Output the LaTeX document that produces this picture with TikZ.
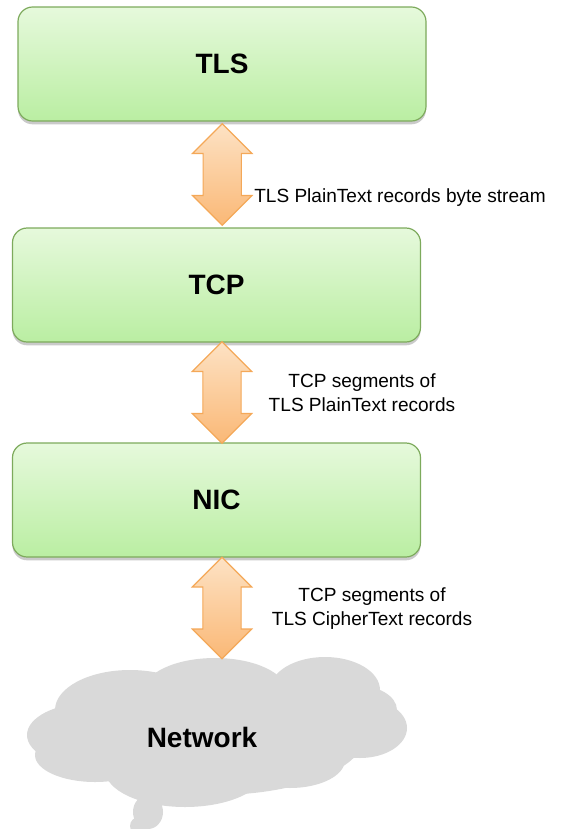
\documentclass[tikz,border=0pt]{standalone}
\usepackage{fontspec}
\setmainfont{Liberation Sans}
\usetikzlibrary{shapes, shapes.arrows, shadows, calc}
\definecolor{layergreen}{RGB}{125, 170, 92}
\definecolor{layertop}{RGB}{230, 249, 220}
\definecolor{layerbot}{RGB}{186, 238, 162}
\definecolor{flowline}{RGB}{244, 168, 88}
\definecolor{flowtop}{RGB}{253, 226, 196}
\definecolor{flowbot}{RGB}{250, 184, 118}
\definecolor{netgray}{RGB}{217, 217, 217}

\begin{document}
\begin{tikzpicture}[x=0.75pt, y=-0.75pt,
  layer/.style={draw=layergreen, line width=0.9pt, rounded corners=11pt,
                top color=layertop, bottom color=layerbot,
                minimum width=306pt, minimum height=85.5pt,
                font=\fontsize{21}{25}\selectfont\bfseries,
                drop shadow={shadow xshift=0pt, shadow yshift=-2.5pt,
                             opacity=0.35, fill=black!60}},
  flow/.style={double arrow, rotate=90, draw=flowline, line width=0.9pt,
               top color=flowtop, bottom color=flowbot,
               minimum height=76pt, inner xsep=0pt, inner ysep=13.9pt,
               double arrow head extend=7.9pt, double arrow tip angle=90},
  note/.style={font=\fontsize{14.3}{18}\selectfont, align=center, inner sep=0pt}
]
  \useasboundingbox (0,0) rectangle (561,829);

  % layers
  \node[layer] (tls) at (222, 64) {TLS};
  \node[layer] (tcp) at (216.5, 285) {TCP};
  \node[layer] (nic) at (216.5, 500) {NIC};

  % network cloud
  \fill[netgray] (215, 735) ellipse [x radius=150, y radius=60];
  \fill[netgray] (90, 735) ellipse [x radius=63, y radius=32];
  \fill[netgray] (130, 710) ellipse [x radius=75, y radius=40];
  \fill[netgray] (215, 692) ellipse [x radius=72, y radius=34];
  \fill[netgray] (325, 690) ellipse [x radius=55, y radius=33];
  \fill[netgray] (355, 710) ellipse [x radius=42, y radius=25];
  \fill[netgray] (360, 728) ellipse [x radius=47, y radius=30];
  \fill[netgray] (290, 760) ellipse [x radius=55, y radius=28];
  \fill[netgray] (185, 770) ellipse [x radius=80, y radius=37];
  \fill[netgray] (95, 755) ellipse [x radius=60, y radius=27];
  \fill[netgray] (148, 812) ellipse [x radius=15, y radius=17];
  \fill[netgray] (139, 826) circle [radius=9];
  \node[font=\fontsize{21}{25}\selectfont\bfseries] (net) at (202, 737) {Network};

  % byte streams between layers
  \node[flow] (tlstcp) at ($(tls.south)!0.5!(tcp.north) + (3,0)$) {};
  \node[flow] (tcpnic) at ($(tcp.south)!0.5!(nic.north) + (5.5,0)$) {};
  \node[flow] (nicnet) at (222, 608) {};

  \node[note, anchor=west] (plain) at (254, 198) {TLS PlainText records byte stream};
  \node[note] (seg) at (362, 393) {TCP segments of\\TLS PlainText records};
  \node[note] (cipher) at (372, 609) {TCP segments of\\TLS CipherText records};
\end{tikzpicture}
\end{document}
